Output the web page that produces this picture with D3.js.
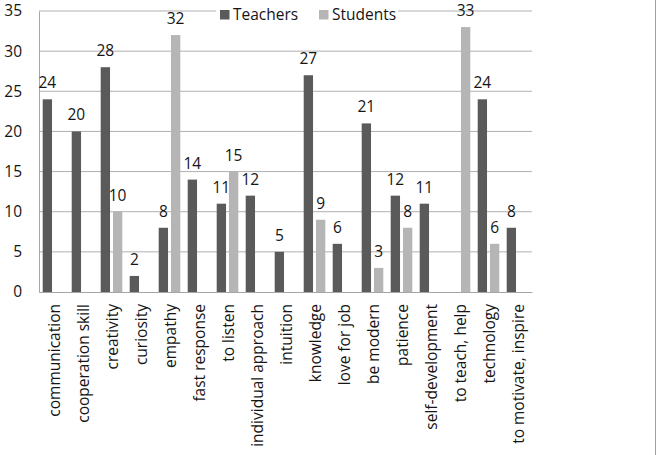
<!DOCTYPE html>
<html><head><meta charset="utf-8">
<script src="https://cdn.jsdelivr.net/npm/d3@7"></script>
<style>body{margin:0;background:#fff;} svg{display:block;font-family:"Open Sans",sans-serif;}</style>
</head><body>
<script>
const categories = ["communication","cooperation skill","creativity","curiosity","empathy","fast response","to listen","individual approach","intuition","knowledge","love for job","be modern","patience","self-development","to teach, help","technology","to motivate, inspire"];
const teachers = [24,20,28,2,8,14,11,12,5,27,6,21,12,11,0,24,8];
const students = [0,0,10,0,32,0,15,0,0,9,0,3,8,0,33,6,0];
const seriesNames = ["Teachers","Students"];
const yTicks = [0,5,10,15,20,25,30,35];

const W=658,H=455;
const m={left:39,right:532,top:11,bottom:292};
const colors={Teachers:"#5a5a5a",Students:"#b5b5b5"};
const svg=d3.select("body").append("svg").attr("width",W).attr("height",H);
const fs="15.5px";
const tc="#151515";

const x0=d3.scaleBand().domain(categories).range([m.left,m.right]).paddingInner(0.255).paddingOuter(0.1275);
const x1=d3.scaleBand().domain(seriesNames).range([0,x0.bandwidth()]).paddingInner(0.24);
const y=d3.scaleLinear().domain([0,35]).range([m.bottom,m.top]);

// gridlines
svg.append("g").selectAll("line").data(yTicks.filter(d=>d>0)).join("line")
 .attr("x1",m.left).attr("x2",m.right).attr("y1",d=>y(d)).attr("y2",d=>y(d))
 .attr("stroke","#b0b0b0").attr("stroke-width",1);

// y axis
const ya=svg.append("g").attr("transform",`translate(${m.left},0)`)
 .call(d3.axisLeft(y).tickValues(yTicks).tickSize(0).tickPadding(17));
ya.select(".domain").attr("stroke","#a6a6a6");
ya.selectAll("text").attr("font-size",fs).attr("font-family","Open Sans").attr("fill",tc);

const data=categories.map((c,i)=>({cat:c,vals:[{s:"Teachers",v:teachers[i]},{s:"Students",v:students[i]}]}));
const g=svg.append("g").selectAll("g").data(data).join("g").attr("transform",d=>`translate(${x0(d.cat)},0)`);
g.selectAll("rect").data(d=>d.vals.filter(e=>e.v>0)).join("rect")
 .attr("x",d=>x1(d.s)).attr("width",x1.bandwidth())
 .attr("y",d=>y(d.v)).attr("height",d=>y(0)-y(d.v)).attr("fill",d=>colors[d.s]);
g.selectAll("text").data(d=>d.vals.filter(e=>e.v>0)).join("text")
 .attr("x",d=>x1(d.s)+x1.bandwidth()/2).attr("y",d=>y(d.v)-11)
 .attr("text-anchor","middle").attr("font-size",fs).attr("fill",tc).text(d=>d.v);

// x axis
const xa=svg.append("g").attr("transform",`translate(0,${m.bottom})`)
 .call(d3.axisBottom(x0).tickSize(0).tickSizeOuter(0));
xa.select(".domain").attr("stroke","#a6a6a6");
xa.selectAll("text").attr("font-size",fs).attr("font-family","Open Sans").attr("fill",tc)
 .attr("transform","rotate(-90)").attr("text-anchor","end").attr("x",-12).attr("y",0).attr("dy","0.4em");

// legend
const lg=svg.append("g");
lg.append("rect").attr("x",216).attr("y",3).attr("width",182).attr("height",19).attr("fill","#fff");
const lx=[220,319];
seriesNames.forEach((s,i)=>{
 lg.append("rect").attr("x",lx[i]).attr("y",10).attr("width",9.5).attr("height",9.5).attr("fill",colors[s]);
 lg.append("text").attr("x",lx[i]+13).attr("y",19.5).attr("font-size",fs).attr("fill",tc).text(s);
});

// outer border right edge
svg.append("line").attr("x1",655.5).attr("x2",655.5).attr("y1",0).attr("y2",H).attr("stroke","#a0a0a0");
</script>
</body></html>
